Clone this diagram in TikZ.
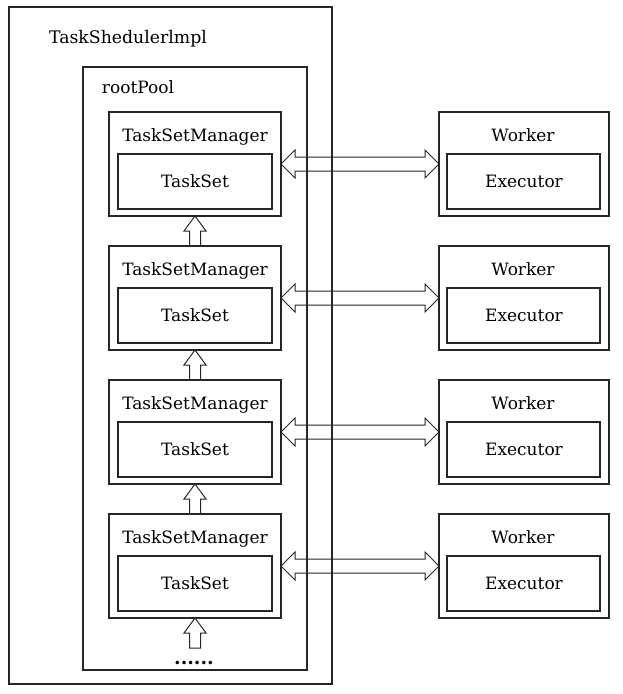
\documentclass[tikz,border=0pt]{standalone}
\usepackage{fontspec}
\setmainfont{DejaVu Serif}
\usetikzlibrary{calc}
\begin{document}
\begin{tikzpicture}[x=1pt,y=-1pt,
  box/.style={draw=black!85,line width=1.3pt,inner sep=0pt,outer sep=0pt,fill=none},
  lbl/.style={inner sep=0pt,anchor=base,text=black,font=\fontsize{17}{20}\selectfont},
  tsmlbl/.style={lbl},
  hollow/.style={draw=black!85,line width=1pt,line join=miter}]
\useasboundingbox (0,0) rectangle (623,694);
\node[box,anchor=north west,minimum width=323pt,minimum height=677pt] (outer) at (9,7) {};
\node[lbl,font=\fontsize{17.3}{20}\selectfont] (title) at (128,43) {TaskShedulerlmpl};
\node[box,anchor=north west,minimum width=224pt,minimum height=603pt] (pool) at (83,67) {};
\node[lbl] (poollbl) at (138,93) {rootPool};
\foreach \i in {1,2,3,4}{
  \pgfmathsetmacro{\top}{112+134*(\i-1)}
  \node[box,anchor=north west,minimum width=172pt,minimum height=104pt] (t\i) at (109,\top) {};
  \node[tsmlbl] (tl\i) at (195,\top+29) {TaskSetManager};
  \node[box,anchor=north west,minimum width=154pt,minimum height=55pt] (ts\i) at (118,\top+42) {};
  \node[lbl] (tsl\i) at (195,\top+75) {TaskSet};
  \node[box,anchor=north west,minimum width=170pt,minimum height=104pt] (w\i) at (439,\top) {};
  \node[lbl] (wl\i) at (523,\top+29) {Worker};
  \node[box,anchor=north west,minimum width=153pt,minimum height=55pt] (e\i) at (447,\top+42) {};
  \node[lbl] (el\i) at (524,\top+75) {Executor};
  \draw[hollow] (t\i.east) -- ++(14,-14) -- ++(0,7) -- ($(w\i.west)+(-14,-7)$) -- ++(0,-7)
     -- (w\i.west) -- ++(-14,14) -- ++(0,-7) -- ($(t\i.east)+(14,7)$) -- ++(0,7) -- cycle;
}
\foreach \a/\b in {1/2,2/3,3/4}{
  \draw[hollow] (t\a.south) -- ++(11,15) -- ++(-5.5,0) -- ($(t\b.north)+(5.5,0)$)
     -- ($(t\b.north)+(-5.5,0)$) -- ($(t\a.south)+(-5.5,15)$) -- ++(-5.5,0) -- cycle;
}
\coordinate (tail) at (195,648);
\draw[hollow] (t4.south) -- ++(11,15) -- ++(-5.5,0) -- ($(tail)+(5.5,0)$)
   -- ($(tail)+(-5.5,0)$) -- ($(t4.south)+(-5.5,15)$) -- ++(-5.5,0) -- cycle;
\node[lbl,font=\fontsize{19}{20}\selectfont\bfseries] (dots) at (194,664) {......};
\end{tikzpicture}
\end{document}
